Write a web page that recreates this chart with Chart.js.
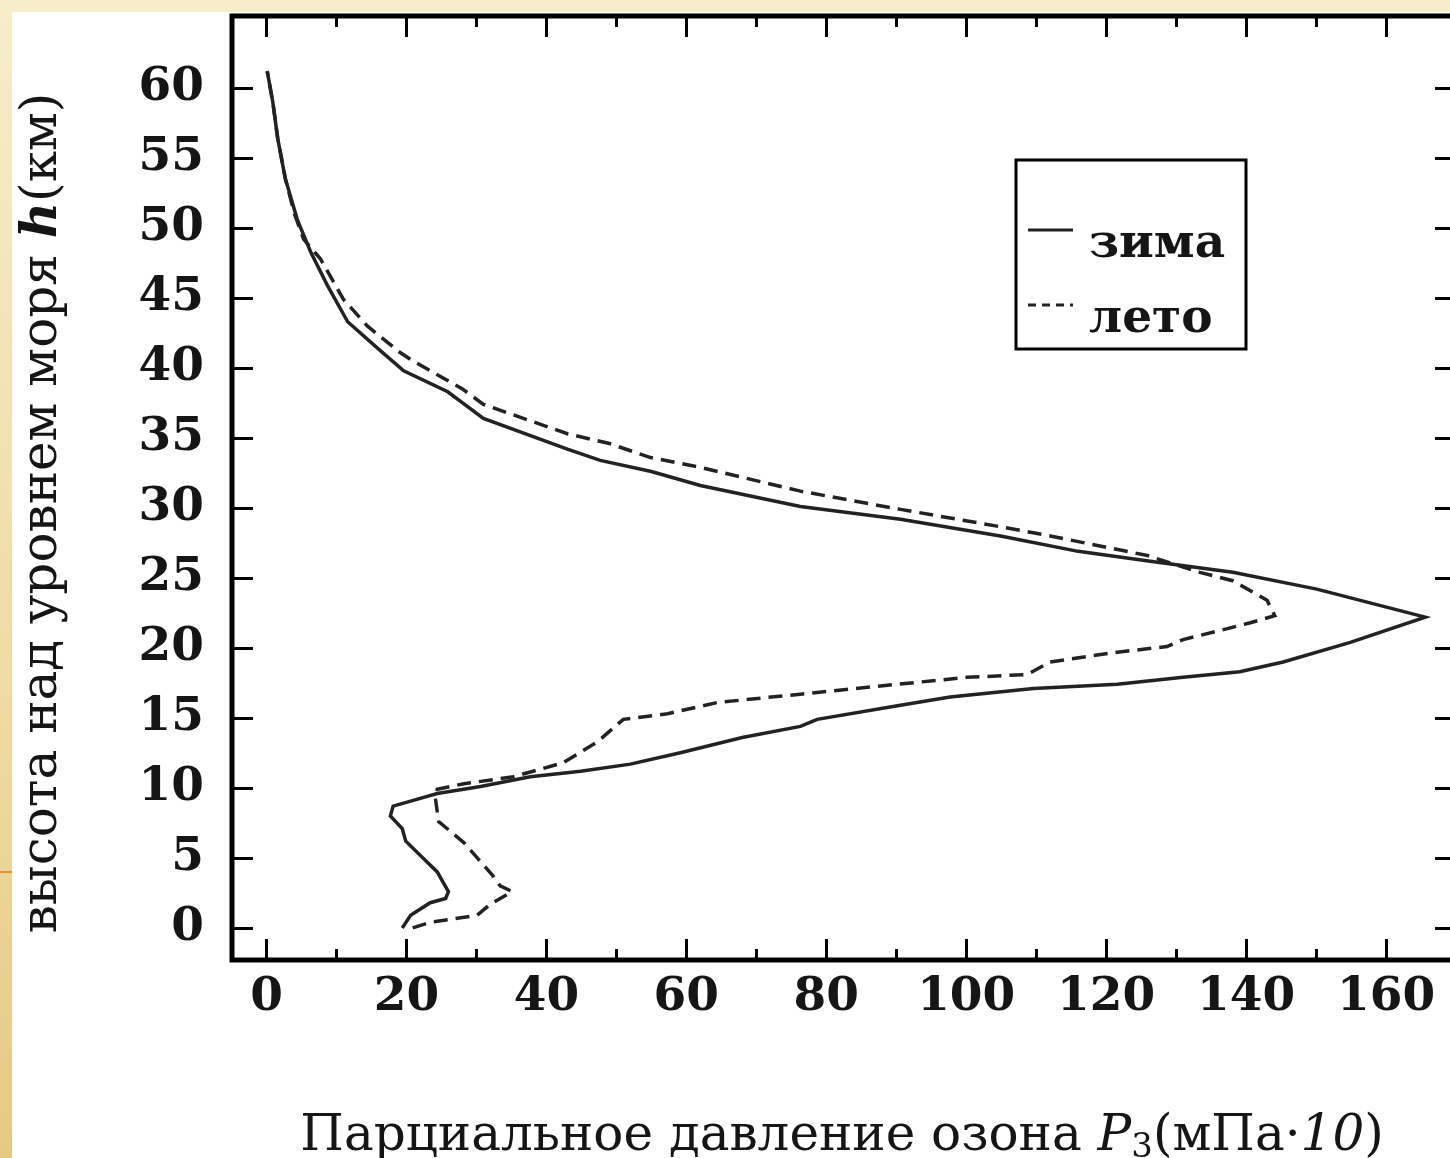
<!DOCTYPE html>
<html>
<head>
<meta charset="utf-8">
<script src="https://cdn.jsdelivr.net/npm/chart.js@4.4.1/dist/chart.umd.min.js"></script>
<style>
  html, body { margin: 0; padding: 0; overflow: hidden; }
  body { width: 1450px; height: 1158px; position: relative;
         background: linear-gradient(180deg, #f7edca 0%, #efdba3 60%, #e6c983 100%); }
  #panel { position: absolute; left: 12px; top: 12px; right: 0; bottom: 0; background: #fff; }
  #mark { position: absolute; left: 0; top: 871px; width: 12px; height: 2px; background: #e8913c; }
  #wrap { position: absolute; left: 0; top: 0; width: 1500px; height: 1158px; }
</style>
</head>
<body>
<div id="panel"></div>
<div id="mark"></div>
<div id="wrap"><canvas id="ozone" width="1500" height="1158"></canvas></div>
<script>
// зима (solid) - partial pressure vs altitude
const winterP = [19.4, 20.6, 23.4, 25.6, 26.0, 24.4, 19.9, 19.4, 17.7, 18.1, 21.6, 24.4, 30.6, 37.7, 44.9, 52.0,
  59.0, 68.0, 76.3, 78.7, 90.6, 97.7, 109.6, 121.6, 131.0, 139.1, 145.3, 154.9, 165.6, 150.1, 138.1, 126.3,
  116.0, 104.9, 90.6, 76.3, 62.0, 55.0, 47.7, 43.0, 31.0, 25.9, 19.6, 15.9, 11.6, 8.7, 6.3, 4.4, 2.7, 1.6, 0.9, 0.1];
const winterH = [0.0, 0.9, 1.8, 2.1, 2.6, 4.0, 6.2, 7.1, 8.0, 8.7, 9.2, 9.6, 10.1, 10.8, 11.2, 11.7,
  12.5, 13.6, 14.4, 14.9, 15.9, 16.5, 17.1, 17.4, 17.9, 18.3, 19.0, 20.4, 22.2, 24.2, 25.4, 26.2,
  26.9, 28.0, 29.2, 30.1, 31.6, 32.6, 33.4, 34.2, 36.4, 38.3, 39.8, 41.4, 43.3, 45.9, 48.3, 50.6, 53.5, 56.4, 59.0, 61.2];

// лето (dashed)
const summerP = [20.9, 23.4, 30.1, 32.0, 35.1, 33.4, 32.4, 28.2, 24.6, 24.1, 24.4, 28.2, 35.3, 42.4, 47.3, 51.0,
  57.3, 64.4, 76.3, 88.1, 100.1, 108.7, 112.0, 121.6, 128.7, 131.0, 135.9, 140.6, 144.1, 143.0, 138.1, 133.4,
  125.9, 112.0, 104.4, 90.6, 76.3, 62.0, 54.9, 49.0, 43.0, 31.0, 28.0, 20.6, 19.1, 14.4, 11.0, 7.7, 5.3, 4.0, 2.7, 1.6, 0.9, 0.1];
const summerH = [0.0, 0.4, 0.9, 1.7, 2.6, 3.0, 3.7, 6.1, 7.6, 9.4, 9.9, 10.3, 10.8, 11.8, 13.3, 14.9,
  15.3, 16.1, 16.7, 17.3, 17.9, 18.1, 19.0, 19.7, 20.1, 20.6, 21.2, 21.8, 22.3, 23.4, 24.8, 25.4,
  26.6, 28.0, 28.7, 29.9, 31.2, 32.9, 33.6, 34.6, 35.3, 37.4, 38.5, 40.6, 41.1, 43.0, 44.9, 47.8, 49.2, 51.0, 53.5, 56.4, 59.0, 61.2];

const seriesNames = ['зима', 'лето'];
const xTickLabels = [0, 20, 40, 60, 80, 100, 120, 140, 160];
const xTickMarks = [0, 10, 20, 30, 40, 50, 60, 70, 80, 90, 100, 110, 120, 130, 140, 150, 160, 170];
const yTickLabels = [0, 5, 10, 15, 20, 25, 30, 35, 40, 45, 50, 55, 60];

const SERIF = '"DejaVu Serif", "Liberation Serif", serif';
const INK = '#151515';

function pairs(xs, ys) {
  return xs.map((v, i) => ({ x: v, y: ys[i] }));
}

// writes a run of text pieces with different fonts, centred on x
function richText(ctx, parts, x, y) {
  let total = 0;
  parts.forEach(p => { ctx.font = p.font; total += ctx.measureText(p.t).width; });
  let cx = x - total / 2;
  parts.forEach(p => {
    ctx.font = p.font;
    ctx.fillText(p.t, cx, y + (p.dy || 0));
    cx += ctx.measureText(p.t).width;
  });
}

const framePlugin = {
  id: 'frame',
  afterDraw(chart) {
    const { ctx, chartArea: a, scales } = chart;
    const sx = scales.x, sy = scales.y;
    ctx.save();
    ctx.strokeStyle = '#000';
    ctx.lineCap = 'butt';

    // inward ticks
    ctx.lineWidth = 3;
    ctx.beginPath();
    yTickLabels.forEach(v => {
      const py = Math.round(sy.getPixelForValue(v)) + 0.5;
      ctx.moveTo(a.left, py); ctx.lineTo(a.left + 21, py);
      ctx.moveTo(a.right, py); ctx.lineTo(a.right - 21, py);
    });
    xTickMarks.forEach(v => {
      const px = Math.round(sx.getPixelForValue(v)) + 0.5;
      const len = v % 20 === 0 ? 21 : 11;
      ctx.moveTo(px, a.bottom); ctx.lineTo(px, a.bottom - len);
      ctx.moveTo(px, a.top); ctx.lineTo(px, a.top + len);
    });
    ctx.stroke();

    ctx.lineWidth = 5;
    ctx.strokeRect(a.left, a.top, a.right - a.left, a.bottom - a.top);

    // legend
    ctx.lineWidth = 3;
    ctx.strokeRect(1016, 160, 230, 189);
    const ds = chart.data.datasets;
    const rows = [230, 305];
    ds.forEach((d, i) => {
      ctx.beginPath();
      ctx.setLineDash(d.borderDash ? [8, 6] : []);
      ctx.lineWidth = 3;
      ctx.strokeStyle = d.borderColor;
      ctx.moveTo(1028, rows[i]); ctx.lineTo(1073, rows[i]);
      ctx.stroke();
      ctx.setLineDash([]);
      ctx.fillStyle = INK;
      ctx.font = 'bold 47px ' + SERIF;
      ctx.textAlign = 'left';
      ctx.textBaseline = 'alphabetic';
      ctx.fillText(d.label, 1089, rows[i] + 27);
    });

    // axis titles
    ctx.fillStyle = INK;
    ctx.textAlign = 'left';
    ctx.textBaseline = 'alphabetic';
    const reg = '50px ' + SERIF;
    const ita = 'italic 50px ' + SERIF;
    richText(ctx, [
      { t: 'Парциальное давление озона ', font: reg },
      { t: 'P', font: ita },
      { t: '3', font: '34px ' + SERIF, dy: 7 },
      { t: '(мПа·', font: reg },
      { t: '10', font: ita },
      { t: ')', font: reg }
    ], (a.left + a.right) / 2 - 2, 1150);

    ctx.translate(56, 513);
    ctx.rotate(-Math.PI / 2);
    richText(ctx, [
      { t: 'высота над уровнем моря ', font: reg },
      { t: 'h', font: 'italic bold 50px ' + SERIF },
      { t: '(км)', font: reg }
    ], 0, 0);
    ctx.restore();
  }
};

new Chart(document.getElementById('ozone'), {
  type: 'scatter',
  data: {
    datasets: [
      { label: seriesNames[0], data: pairs(winterP, winterH), showLine: true,
        borderColor: '#222', borderWidth: 3.5, pointRadius: 0, tension: 0 },
      { label: seriesNames[1], data: pairs(summerP, summerH), showLine: true,
        borderColor: '#222', borderWidth: 3.5, borderDash: [14, 8], pointRadius: 0, tension: 0 }
    ]
  },
  options: {
    responsive: false,
    animation: false,
    devicePixelRatio: 1,
    layout: { padding: { top: 16, right: 44, left: 0, bottom: 0 } },
    plugins: { legend: { display: false }, tooltip: { enabled: false } },
    scales: {
      x: {
        type: 'linear', min: -4.93, max: 170,
        afterBuildTicks: s => { s.ticks = xTickLabels.map(v => ({ value: v })); },
        afterFit: s => { s.height = 198; s.paddingLeft = 0; s.paddingRight = 0; },
        grid: { display: false, drawTicks: false },
        border: { display: false },
        ticks: { font: { family: SERIF, size: 47, weight: 'bold' }, color: INK, padding: 10, maxRotation: 0, autoSkip: false }
      },
      y: {
        type: 'linear', min: -2.29, max: 65.14,
        afterBuildTicks: s => { s.ticks = yTickLabels.map(v => ({ value: v })); },
        afterFit: s => { s.width = 232; s.paddingTop = 0; s.paddingBottom = 0; },
        grid: { display: false, drawTicks: false },
        border: { display: false },
        ticks: { font: { family: SERIF, size: 47, weight: 'bold' }, color: INK, padding: 28, autoSkip: false }
      }
    }
  },
  plugins: [framePlugin]
});
</script>
</body>
</html>
